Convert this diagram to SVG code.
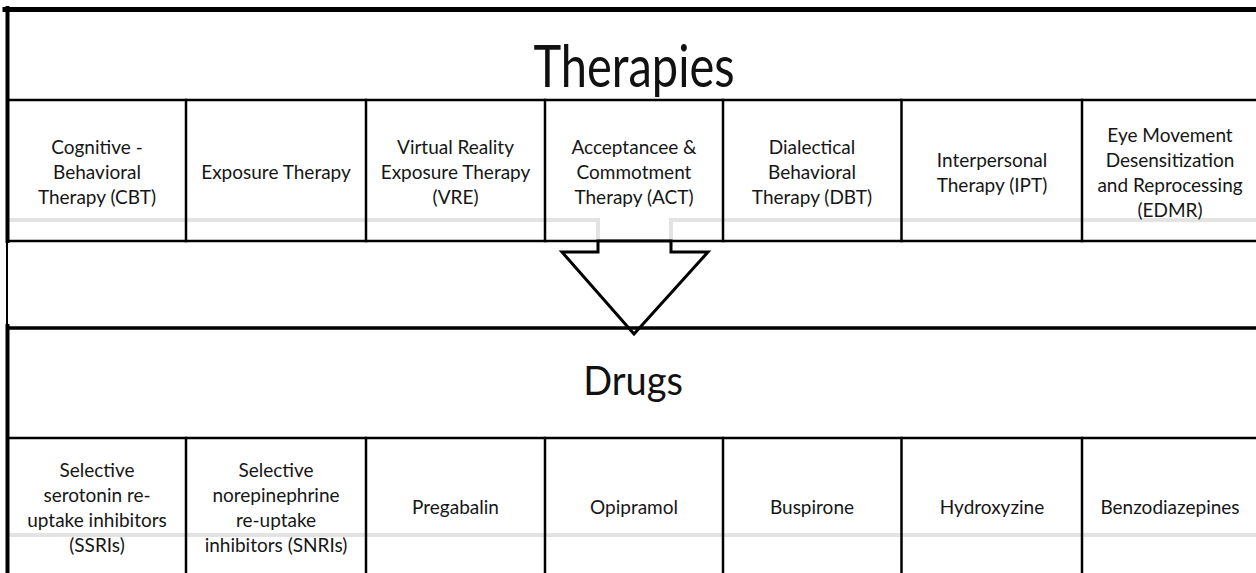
<svg xmlns="http://www.w3.org/2000/svg" width="1256" height="573" viewBox="0 0 1256 573">
  <style>
    .bg { fill: #ffffff; }
    .frame { stroke: #000000; fill: none; stroke-linecap: square; }
    .rule { stroke: #e3e3e3; stroke-width: 4; fill: none; }
    .cell { font-family: Lato, "Liberation Sans", sans-serif; font-size: 19px; fill: #161616; text-anchor: middle; }
    .title { font-family: Lato, "Liberation Sans", sans-serif; fill: #111111; text-anchor: middle; }
    .arrow { fill: #ffffff; stroke: #000000; stroke-width: 3; stroke-linejoin: miter; }
  </style>

  <rect class="bg" x="0" y="0" width="1256" height="573"/>

  <!-- light horizontal bands inside both tables -->
  <g id="bands">
    <path class="rule" d="M8,220 H598 V241 M671,241 V220 H1256"/>
    <path class="rule" d="M8,535 H1256"/>
  </g>

  <!-- Therapies table -->
  <g id="therapies">
    <line class="frame" x1="5" y1="9.5" x2="1256" y2="9.5" stroke-width="5"/>
    <line class="frame" x1="7.5" y1="8" x2="7.5" y2="241" stroke-width="4"/>
    <line class="frame" x1="8" y1="100" x2="1256" y2="100" stroke-width="2.5"/>
    <line class="frame" x1="8" y1="241" x2="1256" y2="241" stroke-width="2.5"/>
    <g stroke-width="2.5">
      <line class="frame" x1="186" y1="100" x2="186" y2="241"/>
      <line class="frame" x1="366" y1="100" x2="366" y2="241"/>
      <line class="frame" x1="545" y1="100" x2="545" y2="241"/>
      <line class="frame" x1="723" y1="100" x2="723" y2="241"/>
      <line class="frame" x1="901.5" y1="100" x2="901.5" y2="241"/>
      <line class="frame" x1="1082" y1="100" x2="1082" y2="241"/>
    </g>
    <text class="title" font-size="47" transform="translate(634,87) scale(1,1.25)">Therapies</text>
  </g>

  <g id="t-cbt">
    <text class="cell" x="97" y="154">Cognitive -</text>
    <text class="cell" x="97" y="179">Behavioral</text>
    <text class="cell" x="97" y="204">Therapy (CBT)</text>
  </g>
  <g id="t-exposure">
    <text class="cell" x="276" y="179">Exposure Therapy</text>
  </g>
  <g id="t-vre">
    <text class="cell" x="455.5" y="154">Virtual Reality</text>
    <text class="cell" x="455.5" y="179">Exposure Therapy</text>
    <text class="cell" x="455.5" y="204">(VRE)</text>
  </g>
  <g id="t-act">
    <text class="cell" x="634" y="154">Acceptancee &amp;</text>
    <text class="cell" x="634" y="179">Commotment</text>
    <text class="cell" x="634" y="204">Therapy (ACT)</text>
  </g>
  <g id="t-dbt">
    <text class="cell" x="812" y="154">Dialectical</text>
    <text class="cell" x="812" y="179">Behavioral</text>
    <text class="cell" x="812" y="204">Therapy (DBT)</text>
  </g>
  <g id="t-ipt">
    <text class="cell" x="992" y="166.5">Interpersonal</text>
    <text class="cell" x="992" y="191.5">Therapy (IPT)</text>
  </g>
  <g id="t-edmr">
    <text class="cell" x="1170" y="141.5">Eye Movement</text>
    <text class="cell" x="1170" y="166.5">Desensitization</text>
    <text class="cell" x="1170" y="191.5">and Reprocessing</text>
    <text class="cell" x="1170" y="216.5">(EDMR)</text>
  </g>

  <!-- link between the two tables -->
  <g id="connectors">
    <line class="frame" x1="7" y1="241" x2="7" y2="328" stroke-width="2"/>
    <polygon class="arrow" points="598,241 598,252 562,252 634,334 708,252 671,252 671,241"/>
  </g>

  <!-- Drugs table -->
  <g id="drugs">
    <line class="frame" x1="8" y1="328" x2="1256" y2="328" stroke-width="3.5"/>
    <line class="frame" x1="7.5" y1="326" x2="7.5" y2="573" stroke-width="4"/>
    <line class="frame" x1="8" y1="438" x2="1256" y2="438" stroke-width="2.5"/>
    <g stroke-width="2.5">
      <line class="frame" x1="186" y1="438" x2="186" y2="573"/>
      <line class="frame" x1="366" y1="438" x2="366" y2="573"/>
      <line class="frame" x1="545" y1="438" x2="545" y2="573"/>
      <line class="frame" x1="723" y1="438" x2="723" y2="573"/>
      <line class="frame" x1="901.5" y1="438" x2="901.5" y2="573"/>
      <line class="frame" x1="1082" y1="438" x2="1082" y2="573"/>
    </g>
    <text class="title" font-size="38" transform="translate(633,395) scale(1,1.05)">Drugs</text>
  </g>

  <g id="d-ssri">
    <text class="cell" x="97" y="476.5">Selective</text>
    <text class="cell" x="97" y="501.5">serotonin re-</text>
    <text class="cell" x="97" y="526.5">uptake inhibitors</text>
    <text class="cell" x="97" y="551.5">(SSRIs)</text>
  </g>
  <g id="d-snri">
    <text class="cell" x="276" y="476.5">Selective</text>
    <text class="cell" x="276" y="501.5">norepinephrine</text>
    <text class="cell" x="276" y="526.5">re-uptake</text>
    <text class="cell" x="276" y="551.5">inhibitors (SNRIs)</text>
  </g>
  <g id="d-pregabalin">
    <text class="cell" x="455.5" y="514">Pregabalin</text>
  </g>
  <g id="d-opipramol">
    <text class="cell" x="634" y="514">Opipramol</text>
  </g>
  <g id="d-buspirone">
    <text class="cell" x="812" y="514">Buspirone</text>
  </g>
  <g id="d-hydroxyzine">
    <text class="cell" x="992" y="514">Hydroxyzine</text>
  </g>
  <g id="d-benzo">
    <text class="cell" x="1170" y="514">Benzodiazepines</text>
  </g>
</svg>
